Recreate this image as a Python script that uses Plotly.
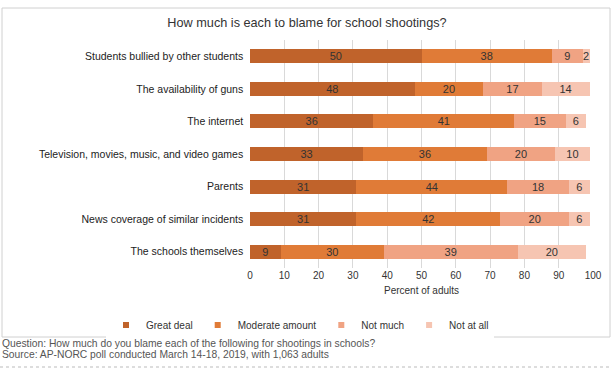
import plotly.graph_objects as go

categories = [
    "Students bullied by other students",
    "The availability of guns",
    "The internet",
    "Television, movies, music, and video games",
    "Parents",
    "News coverage of similar incidents",
    "The schools themselves",
]
great_deal = [50, 48, 36, 33, 31, 31, 9]
moderate_amount = [38, 20, 41, 36, 44, 42, 30]
not_much = [9, 17, 15, 20, 18, 20, 39]
not_at_all = [2, 14, 6, 10, 6, 6, 20]

series = [
    ("Great deal", great_deal, "#c0632b"),
    ("Moderate amount", moderate_amount, "#e07b37"),
    ("Not much", not_much, "#f0a383"),
    ("Not at all", not_at_all, "#f6c5b2"),
]

FONT = "Liberation Sans, Arial, sans-serif"

fig = go.Figure()
for name, vals, color in series:
    fig.add_trace(go.Bar(
        y=categories, x=vals, name=name, orientation="h",
        marker=dict(color=color, line=dict(width=0)),
        width=0.43, showlegend=False,
        text=vals, textposition="inside", insidetextanchor="middle",
        textangle=0,
        textfont=dict(size=11, color="#333333", family=FONT),
        cliponaxis=False,
    ))
# legend entries with small square markers
for name, vals, color in series:
    fig.add_trace(go.Scatter(
        x=[None], y=[None], mode="markers", name=name,
        marker=dict(symbol="square", size=6, color=color),
    ))

W, H = 612, 374
L, R, T, B = 250, 19, 40, 106
pw, ph = W - L - R, H - T - B

def px_x(p):
    return (p - L) / pw

def px_y(p):
    return 1 - (p - T) / ph

fig.update_layout(
    width=W, height=H,
    margin=dict(l=L, r=R, t=T, b=B, autoexpand=False),
    barmode="stack",
    paper_bgcolor="white", plot_bgcolor="white",
    font=dict(family=FONT, size=10, color="#333333"),
    title=dict(text="How much is each to blame for school shootings?",
               x=307 / W, xanchor="center", y=1 - 23 / H, yanchor="middle",
               font=dict(size=12.7, color="#333333")),
    uniformtext=dict(mode="show", minsize=11),
    xaxis=dict(range=[0, 100], dtick=10, showgrid=True, gridcolor="#d9d9d9",
               gridwidth=1, zeroline=False, showline=False, ticks="",
               automargin=False,
               tickfont=dict(size=10, color="#333333"),
               title=dict(text="Percent of adults", font=dict(size=10, color="#333333"),
                          standoff=6)),
    yaxis=dict(autorange="reversed", showgrid=False, zeroline=False, ticks="",
               automargin=False,
               tickfont=dict(size=10.5, color="#222222"), ticksuffix="  "),
    legend=dict(orientation="h", xref="paper", yref="paper",
                x=px_x(106), xanchor="left",
                y=px_y(325), yanchor="middle",
                font=dict(size=10, color="#333333"),
                itemwidth=30, tracegroupgap=0, traceorder="normal"),
    shapes=[
        dict(type="rect", xref="paper", yref="paper",
             x0=px_x(2), x1=px_x(610), y0=px_y(337), y1=px_y(8),
             line=dict(color="#d0d0d0", width=1), fillcolor="rgba(0,0,0,0)",
             layer="below"),
        dict(type="line", xref="paper", yref="paper",
             x0=px_x(0), x1=px_x(612), y0=px_y(367), y1=px_y(367),
             line=dict(color="#bbbbbb", width=1, dash="dot")),
    ],
    annotations=[
        dict(text="Question: How much do you blame each of the following for shootings in schools?",
             xref="paper", yref="paper", x=px_x(0), y=px_y(343), xanchor="left",
             yanchor="middle", showarrow=False, font=dict(size=10.3, color="#555555")),
        dict(text="Source: AP-NORC poll conducted March 14-18, 2019, with 1,063 adults",
             xref="paper", yref="paper", x=px_x(0), y=px_y(354), xanchor="left",
             yanchor="middle", showarrow=False, font=dict(size=10.3, color="#555555")),
    ],
)

fig.write_html("out.html", config={"displayModeBar": False},
               post_script="document.body.style.margin='0';")
